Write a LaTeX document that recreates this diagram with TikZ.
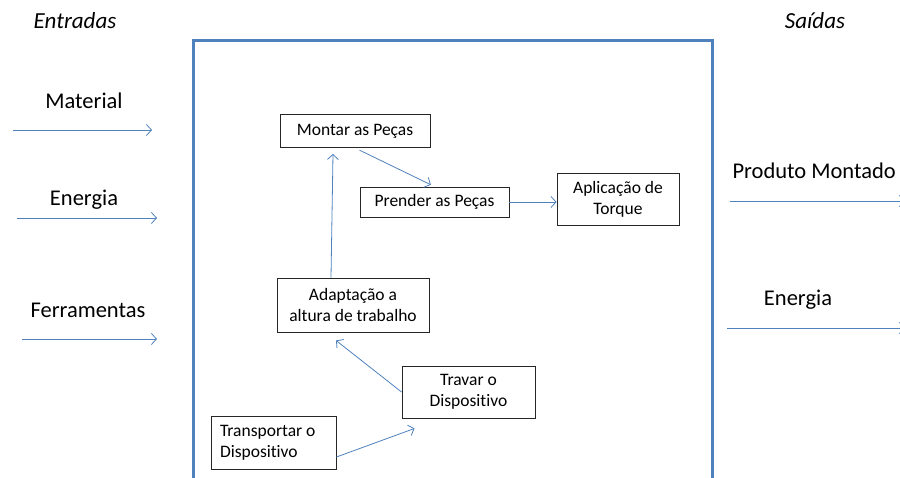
\documentclass[tikz,border=0pt]{standalone}
\usepackage{fontspec}
\setmainfont[Ligatures=NoCommon]{Carlito}
\usetikzlibrary{arrows.meta,positioning}
\definecolor{flowblue}{HTML}{4F81BD}

\begin{document}
\begin{tikzpicture}[x=1pt,y=-1pt,
		procbox/.style={draw=black!85,line width=0.9pt,inner sep=2pt,align=flush center,font=\fontsize{17.5}{21}\selectfont},
		flow/.style={draw=flowblue,line width=0.8pt,-{Straight Barb[length=5pt,width=11pt]}},
		iolabel/.style={anchor=base,font=\fontsize{22.5}{27}\selectfont},
		headlabel/.style={anchor=base,font=\fontsize{23}{27}\selectfont\itshape}]
		\useasboundingbox (0,0) rectangle (900,477);
		% System boundary
		\draw[flowblue,line width=3pt] (193,500) -- (193,40) -- (712,40) -- (712,500);
		% Headings and inputs / outputs
		\node[headlabel] (entradas) at (75,28) {Entradas};
		\node[headlabel] (saidas) at (815,28) {Saídas};
		\node[iolabel] (material) at (84,108) {Material};
		\node[iolabel] (energiaIn) at (84,205) {Energia};
		\node[iolabel] (ferram) at (88,317) {Ferramentas};
		\node[iolabel,anchor=base west] (produto) at (729,178) {Produto Montado};
		\node[iolabel] (energiaOut) at (798,305) {Energia};
		\coordinate (matA) at (13,130);  \coordinate (matB) at (152,130);
		\coordinate (eneA) at (17,218);  \coordinate (eneB) at (157,218);
		\coordinate (ferA) at (22,339);  \coordinate (ferB) at (157,339);
		\coordinate (proA) at (730,201); \coordinate (proB) at (905,201);
		\coordinate (ensA) at (727,328); \coordinate (ensB) at (905,328);
		\draw[flow] (matA) -- (matB);
		\draw[flow] (eneA) -- (eneB);
		\draw[flow] (ferA) -- (ferB);
		\draw[flow] (proA) -- (proB);
		\draw[flow] (ensA) -- (ensB);
		% Process steps
		\node[procbox,minimum width=150pt,minimum height=33pt] (montar) at (355,131) {Montar as Peças};
		\node[procbox,minimum width=149pt,minimum height=30pt] (prender) at (434.5,202) {Prender as Peças};
		\node[procbox,minimum width=122pt,minimum height=52pt] (torque) at (618,199) {Aplicação de\\Torque};
		\node[procbox,minimum width=152pt,minimum height=54pt] (adapt) at (353,305) {Adaptação a\\altura de trabalho};
		\node[procbox,minimum width=133pt,minimum height=52pt] (travar) at (468.5,392) {Travar o\\Dispositivo};
		\node[procbox,minimum width=125pt,minimum height=53pt,align=flush left,text width=107pt] (transp) at (273.5,442.5) {Transportar o\\Dispositivo};
		\draw[flow,shorten <=5pt,shorten >=4pt] (montar.south) -- (prender.north);
		\draw[flow] (prender.east) -- (prender.east -| torque.west);
		\draw[flow] ([xshift=-22pt]adapt.north) -- ([xshift=-22pt,yshift=-6pt]montar.south);
		\draw[flow] (travar.west) -- ([xshift=-17pt,yshift=-8pt]adapt.south);
		\draw[flow] ([yshift=-14.5pt]transp.east) -- ([xshift=13pt,yshift=-10pt]travar.south west);
	\end{tikzpicture}
\end{document}
